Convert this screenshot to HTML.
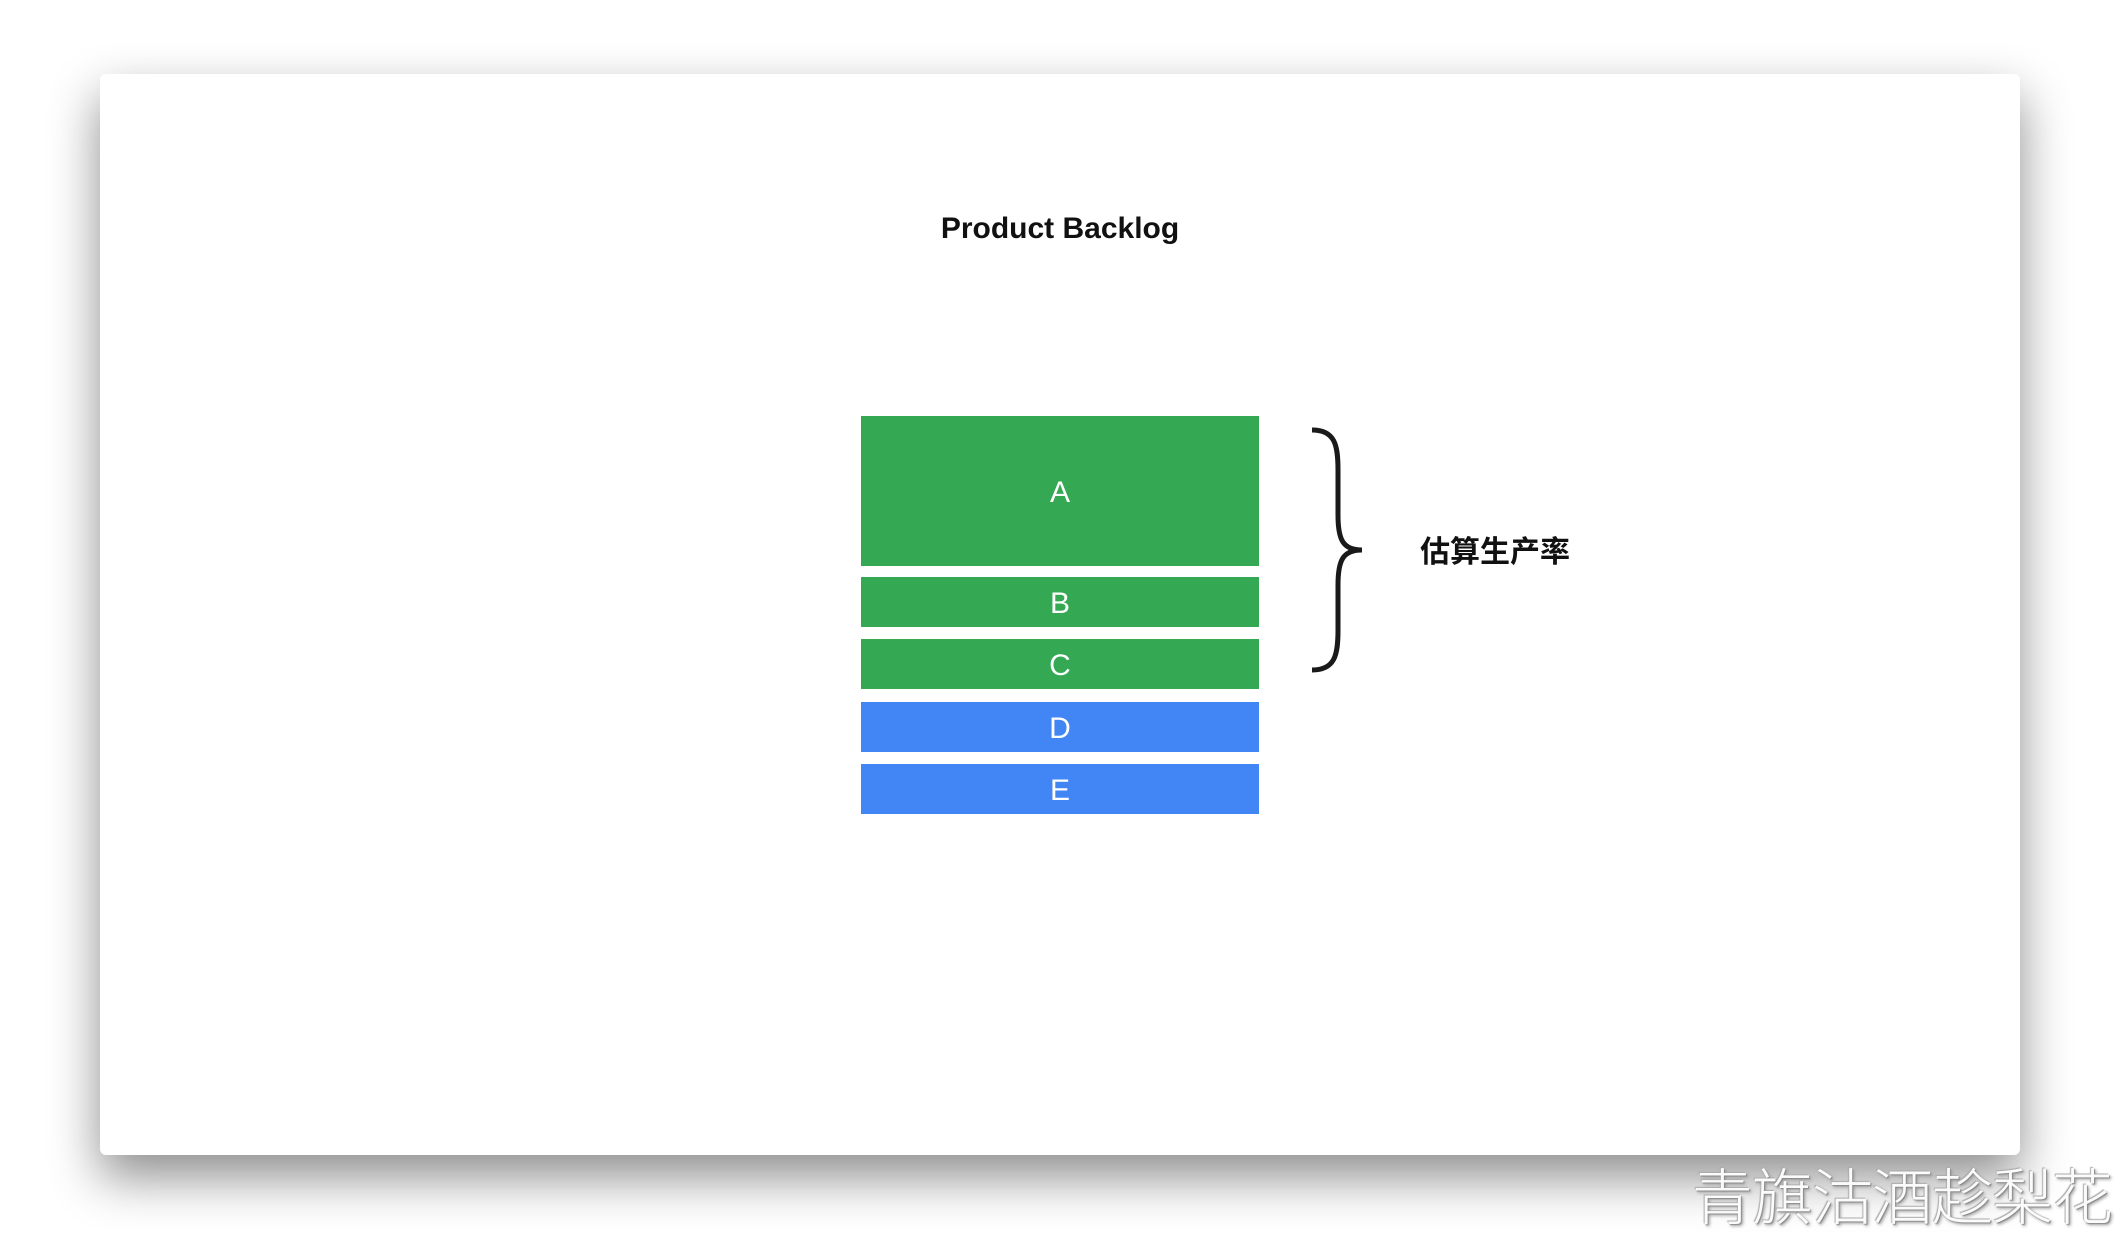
<!DOCTYPE html>
<html><head><meta charset="utf-8"><style>
html,body{margin:0;padding:0;}
body{width:2120px;height:1230px;background:#fff;position:relative;overflow:hidden;font-family:"Liberation Sans","Noto Sans CJK SC",sans-serif;}
.card{position:absolute;left:100px;top:74px;width:1920px;height:1081px;background:#fff;border-radius:6px;box-shadow:0 22px 50px rgba(0,0,0,0.45);}
.t{position:absolute;left:0;width:2120px;text-align:center;top:212px;font-size:30px;font-weight:bold;color:#111;}
.b{position:absolute;left:861px;width:398px;color:#fff;font-size:30px;display:flex;align-items:center;justify-content:center;padding-top:4px;box-sizing:border-box;}
.g{background:#34a853}.bl{background:#4285f4}
.cn{position:absolute;left:1420px;top:527px;font-size:30px;font-weight:bold;color:#111;font-family:"Noto Sans CJK SC",sans-serif;}
.wm{position:absolute;left:1692px;top:1148px;font-size:61px;font-weight:300;color:#fbfbfb;font-family:"Noto Sans CJK SC",sans-serif;letter-spacing:-1px;text-shadow:1px 1px 1px #888,-1px -1px 1px #aaa,2px 2px 3px #999;}
</style></head><body>
<div class="card"></div>
<div class="t">Product Backlog</div>
<div class="b g" style="top:416px;height:150px">A</div>
<div class="b g" style="top:577px;height:50px">B</div>
<div class="b g" style="top:639px;height:50px">C</div>
<div class="b bl" style="top:702px;height:50px">D</div>
<div class="b bl" style="top:764px;height:50px">E</div>
<svg style="position:absolute;left:0;top:0" width="2120" height="1230">
<path d="M1312 430 C1335 430 1338 445 1338 470 L1338 515 C1338 540 1343 550 1362 550 C1343 550 1338 560 1338 585 L1338 630 C1338 655 1335 670 1312 670" fill="none" stroke="#1a1a1a" stroke-width="5"/>
</svg>
<div class="cn">估算生产率</div>
<div class="wm">青旗沽酒趁梨花</div>
</body></html>
